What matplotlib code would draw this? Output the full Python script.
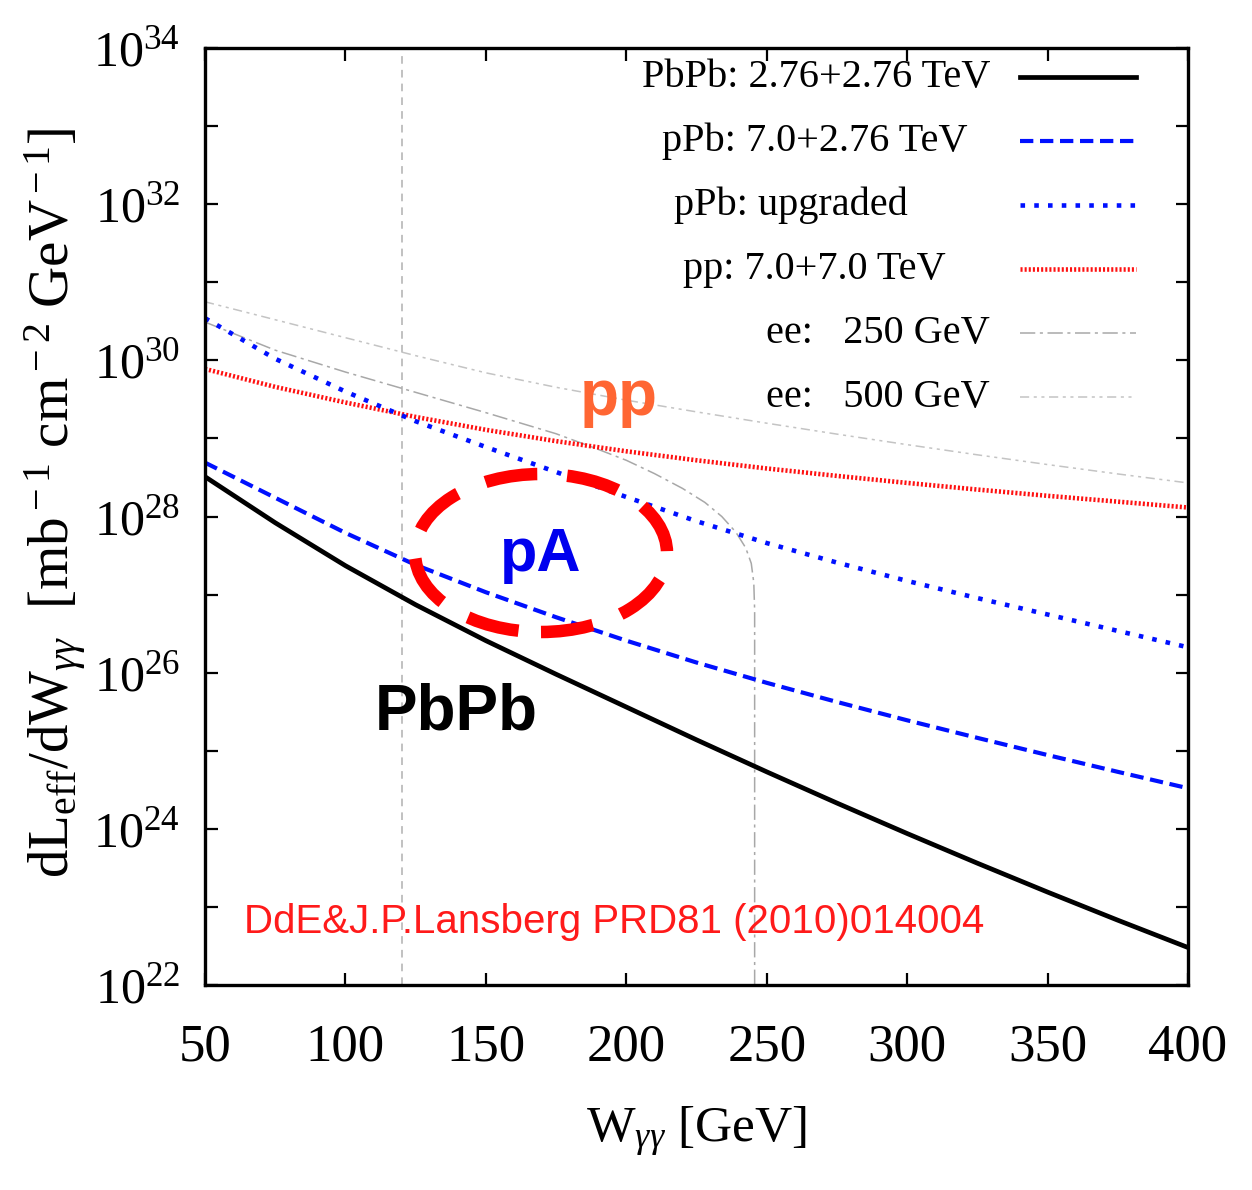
import matplotlib
matplotlib.use("Agg")
import numpy as np
import matplotlib.pyplot as plt
from matplotlib.patches import Ellipse
from matplotlib.lines import Line2D

plt.rcParams['font.family'] = ['Liberation Serif', 'DejaVu Serif']
plt.rcParams['mathtext.fontset'] = 'custom'
plt.rcParams['mathtext.rm'] = 'Liberation Serif'
plt.rcParams['mathtext.it'] = 'Liberation Serif:italic'
plt.rcParams['mathtext.bf'] = 'Liberation Serif:bold'

# photon-photon invariant mass grid [GeV]
w_gev = [50, 75, 100, 125, 150, 175, 200, 225, 250, 275, 300, 325, 350, 375, 400]

# log10 of dL_eff/dW_gg  [mb^-1 cm^-2 GeV^-1]
pbpb_log = [28.51, 27.92, 27.37, 26.87, 26.41, 25.98, 25.56, 25.14, 24.73,
            24.33, 23.94, 23.56, 23.19, 22.83, 22.48]
ppb_log = [28.69, 28.24, 27.79, 27.38, 27.03, 26.71, 26.41, 26.13, 25.87,
           25.625, 25.39, 25.165, 24.945, 24.73, 24.52]
ppb_up_log = [30.54, 30.02, 29.60, 29.22, 28.89, 28.57, 28.25, 27.94, 27.66,
              27.41, 27.175, 26.955, 26.745, 26.535, 26.325]
pp_log = [29.89, 29.66, 29.46, 29.275, 29.11, 28.965, 28.835, 28.72, 28.615,
          28.52, 28.43, 28.345, 28.265, 28.19, 28.115]
ee500_log = [30.75, 30.52, 30.29, 30.06, 29.84, 29.655, 29.49, 29.34, 29.195,
             29.055, 28.92, 28.79, 28.665, 28.545, 28.43]

# 250 GeV e+e- collider: the spectrum stops at the beam energy
ee250_w = [50, 75, 100, 125, 150, 175, 190, 200, 210, 220, 228, 234, 239,
           242.5, 244.5, 245.4, 245.7, 245.7]
ee250_log = [30.49, 30.13, 29.85, 29.59, 29.33, 29.06, 28.86, 28.72, 28.55,
             28.36, 28.18, 28.00, 27.80, 27.60, 27.40, 27.15, 26.80, 21.00]

# threshold marker
w_threshold = 120

legend_labels = ["PbPb: 2.76+2.76 TeV", "pPb: 7.0+2.76 TeV", "pPb: upgraded",
                 "pp: 7.0+7.0 TeV", "ee:   250 GeV", "ee:   500 GeV"]

x_ticks = [50, 100, 150, 200, 250, 300, 350, 400]
y_exponents = list(range(22, 35))

W, H = 1252, 1190
fig = plt.figure(figsize=(W / 100, H / 100), dpi=100)
L, R, T, B = 205, 1188, 48, 985
ax = fig.add_axes([L / W, (H - B) / H, (R - L) / W, (B - T) / H])

def px_to_axes(x, y):
    return (x - L) / (R - L), (B - y) / (B - T)

styles = [
    dict(color='black', lw=3.4, ls='-'),
    dict(color='#0010ff', lw=3.0, ls=(0, (3.2, 1.6)), dash_capstyle='butt'),
    dict(color='#0010ff', lw=3.3, ls=(0, (1.0, 2.0)), dash_capstyle='butt'),
    dict(color='#ff1010', lw=3.3, ls=(0, (0.45, 0.45)), dash_capstyle='butt'),
    dict(color='#a8a8a8', lw=1.1, ls=(0, (10, 3, 2, 3))),
    dict(color='#c4c4c4', lw=1.1, ls=(0, (6, 3, 2, 3, 2, 3))),
]

series = [
    (w_gev, pbpb_log),
    (w_gev, ppb_log),
    (w_gev, ppb_up_log),
    (w_gev, pp_log),
    (ee250_w, ee250_log),
    (w_gev, ee500_log),
]

ax.axvline(w_threshold, color='#b0b0b0', lw=1.1, ls=(0, (5, 4)), zorder=1)

draw_order = [5, 4, 3, 2, 1, 0]
for i in draw_order:
    xs, ls_ = series[i]
    ax.plot(xs, 10.0 ** np.asarray(ls_), zorder=2 + (5 - i) * 0.1, **styles[i])

ax.set_yscale('log')
ax.set_xlim(50, 400)
ax.set_ylim(1e22, 1e34)

ax.set_xticks(x_ticks)
ax.set_xticklabels([str(v) for v in x_ticks])
ax.set_yticks([10.0 ** e for e in y_exponents])
ax.set_yticklabels([r'$\mathregular{10^{%d}}$' % e if e % 2 == 0 else '' for e in y_exponents])
ax.minorticks_off()

ax.tick_params(axis='both', which='major', direction='in', length=9, width=1.6,
               top=True, right=True, labelsize=38)
ax.tick_params(axis='y', labelsize=36)
ax.tick_params(axis='x', pad=28)
ax.tick_params(axis='y', pad=18)
for sp in ax.spines.values():
    sp.set_linewidth(2.4)

ax.set_xlabel(r'W$_{\gamma\gamma}$ [GeV]', fontsize=37, va='top')
ax.xaxis.set_label_coords(0.5, -0.128)
ax.set_ylabel(r'dL$_{\rm eff}$/dW$_{\gamma\gamma}$  [mb$^{\rm -1}$ cm$^{\rm -2}$ GeV$^{\rm -1}$]',
              fontsize=41)
ax.yaxis.set_label_coords(-0.118, 0.515)

# key: text right-justified, sample line to its right
key_rows_px = [77, 141, 205, 269, 333, 397]
key_text_right = [990, 968, 908, 946, 990, 990]
for lab, ypx, xr, st in zip(legend_labels, key_rows_px, key_text_right, styles):
    xa, ya = px_to_axes(xr, ypx)
    ax.text(xa, ya, lab, transform=ax.transAxes, ha='right', va='center', fontsize=29)
    x0, _ = px_to_axes(1020, ypx)
    x1, _ = px_to_axes(1136, ypx)
    ax.add_line(Line2D([x0, x1], [ya, ya], transform=ax.transAxes, **st))

# annotations
sans = ['Liberation Sans', 'DejaVu Sans']
ax.text(*px_to_axes(619, 398), 'pp', transform=ax.transAxes, ha='center', va='center',
        fontsize=46, fontweight='bold', color='#ff6633', family=sans)
ax.text(*px_to_axes(541, 556), 'pA', transform=ax.transAxes, ha='center', va='center',
        fontsize=44, fontweight='bold', color='#0000ee', family=sans)
ax.text(*px_to_axes(456, 713), 'PbPb', transform=ax.transAxes, ha='center', va='center',
        fontsize=46, fontweight='bold', color='black', family=sans)
ax.text(*px_to_axes(614, 922), 'DdE&J.P.Lansberg PRD81 (2010)014004', transform=ax.transAxes,
        ha='center', va='center', fontsize=29, color='#ff1a1a', family=sans)

cx, cy = px_to_axes(541, 553)
ax.add_patch(Ellipse((cx, cy), 252 / (R - L), 158 / (B - T), transform=ax.transAxes,
                     fill=False, ec='#ff0000', lw=9, ls=(0, (4.2, 2.4)), zorder=6))

fig.savefig('out.png', dpi=100)
